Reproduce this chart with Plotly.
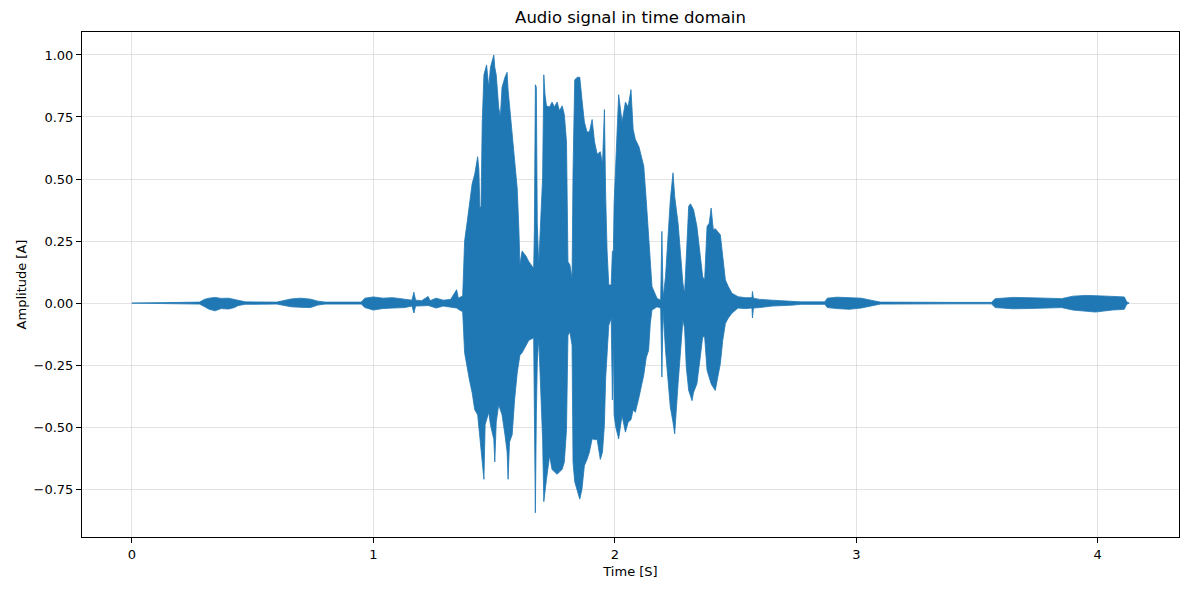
import plotly.graph_objects as go

# envelope of the waveform (time in s, upper / lower amplitude)
time_s = [
    0.000, 0.050, 0.200, 0.280, 0.300, 0.320, 0.345, 0.370, 0.400, 0.425,
    0.440, 0.470, 0.600, 0.630, 0.660, 0.700, 0.740, 0.770, 0.800, 0.950,
    0.965, 1.000, 1.040, 1.080, 1.130, 1.160, 1.168, 1.175, 1.200, 1.227,
    1.235, 1.260, 1.290, 1.320, 1.345, 1.352, 1.370, 1.378, 1.389, 1.398,
    1.409, 1.420, 1.432, 1.437, 1.441, 1.446, 1.451, 1.458, 1.463, 1.469,
    1.478, 1.485, 1.499, 1.503, 1.509, 1.519, 1.526, 1.533, 1.545, 1.554,
    1.558, 1.564, 1.575, 1.585, 1.596, 1.603, 1.607, 1.616, 1.632, 1.644,
    1.664, 1.667, 1.671, 1.675, 1.679, 1.685, 1.692, 1.701, 1.706, 1.711,
    1.717, 1.730, 1.740, 1.750, 1.761, 1.771, 1.782, 1.791, 1.800, 1.806,
    1.814, 1.823, 1.827, 1.834, 1.845, 1.855, 1.864, 1.874, 1.885, 1.895,
    1.906, 1.916, 1.927, 1.940, 1.949, 1.957, 1.962, 1.968, 1.975, 1.985,
    1.990, 1.994, 1.997, 2.004, 2.016, 2.030, 2.044, 2.055, 2.067, 2.076,
    2.085, 2.100, 2.112, 2.120, 2.130, 2.140, 2.147, 2.154, 2.175, 2.190,
    2.195, 2.200, 2.210, 2.220, 2.230, 2.241, 2.248, 2.262, 2.272, 2.282,
    2.289, 2.296, 2.306, 2.313, 2.320, 2.326, 2.340, 2.354, 2.364, 2.372,
    2.382, 2.391, 2.399, 2.408, 2.416, 2.437, 2.447, 2.458, 2.470, 2.485,
    2.510, 2.540, 2.568, 2.570, 2.574, 2.600, 2.650, 2.740, 2.770, 2.870,
    2.880, 2.920, 2.970, 3.020, 3.070, 3.100, 3.400, 3.560, 3.575, 3.650,
    3.750, 3.850, 3.897, 3.950, 3.990, 4.060, 4.110, 4.120, 4.130,
]
upper = [
    0.000, 0.001, 0.002, 0.004, 0.015, 0.020, 0.023, 0.019, 0.020, 0.015,
    0.010, 0.005, 0.004, 0.012, 0.017, 0.020, 0.016, 0.008, 0.004, 0.004,
    0.020, 0.025, 0.020, 0.022, 0.016, 0.012, 0.044, 0.012, 0.010, 0.027,
    0.010, 0.020, 0.012, 0.015, 0.054, 0.020, 0.029, 0.25, 0.33, 0.40,
    0.48, 0.52, 0.59, 0.54, 0.385, 0.39, 0.73, 0.92, 0.94, 0.96,
    0.87, 0.95, 1.00, 0.95, 0.92, 0.79, 0.75, 0.87, 0.91, 0.93,
    0.86, 0.80, 0.68, 0.56, 0.46, 0.29, 0.154, 0.21, 0.19, 0.167,
    0.14, 0.30, 0.88, 0.87, 0.32, 0.154, 0.32, 0.505, 0.92, 0.84,
    0.795, 0.79, 0.81, 0.79, 0.81, 0.775, 0.795, 0.76, 0.65, 0.167,
    0.154, 0.10, 0.53, 0.90, 0.91, 0.91, 0.82, 0.73, 0.69, 0.69,
    0.74, 0.65, 0.60, 0.61, 0.56, 0.78, 0.44, 0.21, 0.073, 0.073,
    0.21, 0.208, 0.40, 0.56, 0.84, 0.73, 0.81, 0.79, 0.86, 0.70,
    0.66, 0.63, 0.58, 0.552, 0.417, 0.255, 0.174, 0.067, 0.019, 0.012,
    0.289, 0.020, 0.106, 0.255, 0.417, 0.525, 0.43, 0.322, 0.187, 0.08,
    0.04, 0.174, 0.39, 0.40, 0.39, 0.377, 0.309, 0.187, 0.106, 0.093,
    0.309, 0.322, 0.383, 0.295, 0.30, 0.275, 0.174, 0.093, 0.067, 0.04,
    0.026, 0.022, 0.022, 0.047, 0.020, 0.015, 0.012, 0.008, 0.005, 0.005,
    0.020, 0.024, 0.022, 0.020, 0.010, 0.004, 0.003, 0.003, 0.018, 0.023,
    0.021, 0.018, 0.028, 0.031, 0.030, 0.028, 0.025, 0.005, 0.000,
]
lower = [
    0.000, -0.001, -0.002, -0.004, -0.014, -0.025, -0.031, -0.022, -0.024, -0.018,
    -0.010, -0.005, -0.004, -0.010, -0.015, -0.017, -0.018, -0.008, -0.004, -0.004,
    -0.018, -0.028, -0.022, -0.020, -0.018, -0.012, -0.040, -0.012, -0.010, -0.010,
    -0.012, -0.020, -0.012, -0.015, -0.020, -0.025, -0.035, -0.20, -0.27, -0.31,
    -0.36, -0.43, -0.45, -0.50, -0.53, -0.57, -0.62, -0.71, -0.49, -0.47,
    -0.44, -0.49, -0.55, -0.64, -0.48, -0.41, -0.43, -0.45, -0.53, -0.60,
    -0.71, -0.56, -0.53, -0.39, -0.28, -0.22, -0.21, -0.20, -0.17, -0.15,
    -0.14, -0.44, -0.845, -0.45, -0.24, -0.14, -0.30, -0.55, -0.80, -0.75,
    -0.71, -0.615, -0.67, -0.68, -0.69, -0.68, -0.67, -0.64, -0.51, -0.13,
    -0.116, -0.17, -0.64, -0.72, -0.76, -0.79, -0.75, -0.655, -0.63, -0.60,
    -0.547, -0.55, -0.55, -0.63, -0.60, -0.49, -0.305, -0.20, -0.089, -0.062,
    -0.39, -0.12, -0.45, -0.50, -0.547, -0.453, -0.52, -0.48, -0.47, -0.43,
    -0.44, -0.38, -0.33, -0.29, -0.22, -0.19, -0.082, -0.028, -0.015, -0.020,
    -0.298, -0.030, -0.19, -0.325, -0.42, -0.48, -0.527, -0.325, -0.19, -0.069,
    -0.10, -0.257, -0.352, -0.37, -0.393, -0.36, -0.325, -0.217, -0.136, -0.136,
    -0.271, -0.30, -0.325, -0.34, -0.352, -0.244, -0.15, -0.082, -0.06, -0.041,
    -0.020, -0.022, -0.020, -0.060, -0.020, -0.018, -0.012, -0.008, -0.005, -0.005,
    -0.018, -0.022, -0.025, -0.020, -0.010, -0.004, -0.003, -0.003, -0.018, -0.023,
    -0.021, -0.018, -0.028, -0.031, -0.036, -0.028, -0.025, -0.005, 0.000,
]

x_ticks = [0, 1, 2, 3, 4]
y_ticks = [-0.75, -0.5, -0.25, 0.0, 0.25, 0.5, 0.75, 1.0]
y_tick_text = ["\u22120.75", "\u22120.50", "\u22120.25", "0.00", "0.25", "0.50", "0.75", "1.00"]

blue = "#1f77b4"

fig = go.Figure()
fig.add_trace(go.Scatter(x=time_s, y=lower, mode="lines",
                         line=dict(color=blue, width=0.8), showlegend=False))
fig.add_trace(go.Scatter(x=time_s, y=upper, mode="lines", fill="tonexty",
                         fillcolor=blue, line=dict(color=blue, width=0.8),
                         showlegend=False))

axis_common = dict(
    showline=True, linecolor="black", linewidth=1, mirror=True,
    ticks="outside", ticklen=5, tickcolor="black",
    showgrid=True, gridcolor="rgba(176,176,176,0.35)", gridwidth=1,
    zeroline=False, tickfont=dict(size=13, color="black"),
)

fig.update_xaxes(range=[-0.2065, 4.3365], tickvals=x_ticks,
                 title=dict(text="Time [S]", font=dict(size=13, color="black"), standoff=6),
                 **axis_common)
fig.update_yaxes(range=[-0.9425, 1.0925], tickvals=y_ticks, ticktext=y_tick_text,
                 title=dict(text="Amplitude [A]", font=dict(size=13, color="black"), standoff=4),
                 **axis_common)

# the page body adds 8px around the figure, so the figure is made 8px smaller
fig.update_layout(
    width=1181, height=582,
    margin=dict(l=74, r=10, t=24, b=53),
    paper_bgcolor="white", plot_bgcolor="white",
    font=dict(family="DejaVu Sans", color="black"),
    title=dict(text="Audio signal in time domain", x=0.5, xanchor="center", xref="paper",
               y=1 - 9 / 582, yanchor="middle", yref="container",
               font=dict(size=16.5, color="black")),
)

fig.write_html("out.html")
